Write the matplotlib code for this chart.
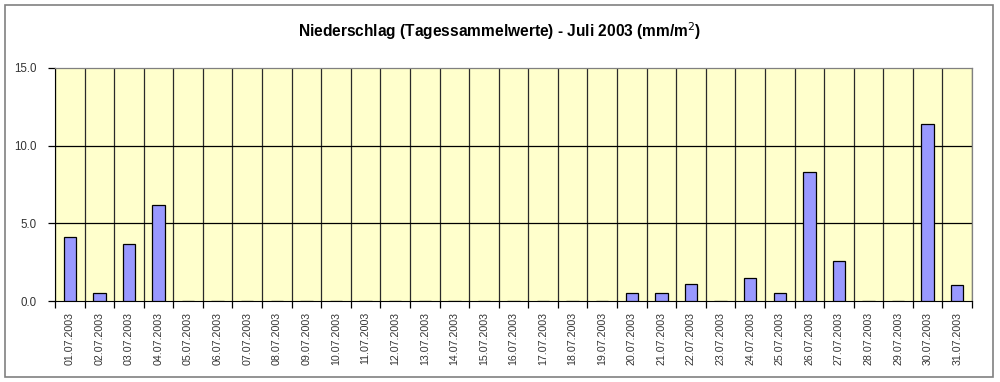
import numpy as np
import matplotlib.pyplot as plt
from matplotlib.patches import Rectangle

plt.rcParams['font.family'] = ['Liberation Sans', 'DejaVu Sans']

days = ["%02d.07.2003" % d for d in range(1, 32)]
rain = [4.1, 0.5, 3.7, 6.2, 0, 0, 0, 0, 0, 0, 0, 0, 0, 0, 0, 0, 0, 0, 0,
        0.5, 0.5, 1.1, 0, 1.5, 0.5, 8.3, 2.6, 0, 0, 11.4, 1.0]
y_ticks = [0.0, 5.0, 10.0, 15.0]

fig = plt.figure(figsize=(10, 3.82), dpi=100)
ax = fig.add_axes([0.055, 0.212, 0.917, 0.61])

# outer chart frame
fig.patches.append(Rectangle((0.005, 0.013), 0.988, 0.975, transform=fig.transFigure,
                             fill=False, edgecolor='#808080', linewidth=1.2))

x = np.arange(len(days))
ax.set_facecolor('#FFFFCC')
ax.bar(x, rain, width=0.42, color='#9999FF', edgecolor='black', linewidth=0.9, zorder=3)

ax.set_xlim(-0.5, len(days) - 0.5)
ax.set_ylim(0, 15)

# gridlines at category boundaries and at y ticks
for b in np.arange(-0.5, len(days) + 0.5, 1.0):
    ax.axvline(b, color='#2a2a2a', linewidth=0.9, zorder=1)
for v in y_ticks[1:-1]:
    ax.axhline(v, color='black', linewidth=0.9, zorder=1)

ax.set_xticks(x)
ax.set_xticklabels(days, rotation=90, fontsize=7.7, color='#333333')
ax.tick_params(axis='x', which='major', length=0, pad=8)
ax.set_xticks(np.arange(-0.5, len(days) + 0.5, 1.0), minor=True)
ax.tick_params(axis='x', which='minor', length=5, direction='out', width=0.9)

ax.set_yticks(y_ticks)
ax.set_yticklabels(["%.1f" % v for v in y_ticks], fontsize=8.3, color='#333333')
ax.tick_params(axis='y', length=5, direction='out', width=0.9, pad=8)

for s in ['top', 'right']:
    ax.spines[s].set_color('#808080')
    ax.spines[s].set_linewidth(0.9)
ax.spines['left'].set_color('black')
ax.spines['bottom'].set_color('black')

fig.text(0.5, 0.918, "Niederschlag (Tagessammelwerte) - Juli 2003 (mm/m$^2$)",
         ha='center', va='center', fontsize=11.2, fontweight='bold')

fig.savefig('out.png', dpi=100)
